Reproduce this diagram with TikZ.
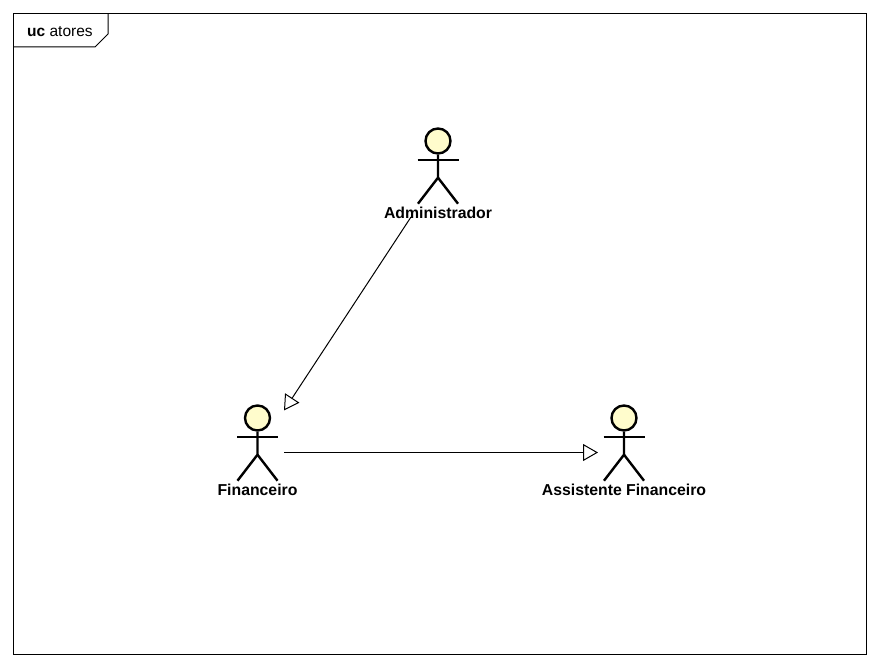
\documentclass[tikz,border=0pt]{standalone}
\usepackage{fontspec}
\setmainfont{Liberation Sans}
\usetikzlibrary{arrows.meta}
\tikzset{
	actorline/.style={line width=2.4pt},
	actorhead/.style={circle, draw, line width=2.4pt, fill=yellow!20, minimum size=25pt, inner sep=0pt},
	actorlabel/.style={font=\bfseries\fontsize{15.8}{18}\selectfont, inner sep=0pt, anchor=center},
	generalization/.style={line width=1pt, -{Triangle[open, fill=white, length=15pt, width=17pt]}},
	framelabel/.style={font=\fontsize{15.5}{17}\selectfont, inner sep=0pt, anchor=base west}
}
\newcommand{\actor}[4]{%
	\node[actorhead](#1) at (#2, #3){};
	\draw[actorline] (#1.south) -- ++(0, 23) coordinate (#1hip) -- ++(-20, 26);
	\draw[actorline] (#1hip) -- ++(20, 26);
	\draw[actorline] (#2-20.5, #3+19) -- (#2+20.5, #3+19);
	\node[actorlabel](#1label) at (#2, #3+72){#4};
}
\begin{document}
\begin{tikzpicture}[x=1pt, y=-1pt]
	\useasboundingbox (0, 0) rectangle (880, 666);
	% Frame and tab:
	\draw[line width=1pt] (13.5, 13.5) rectangle (866.5, 654);
	\draw[line width=1pt] (13.5, 47) -- (95, 47) -- (108, 34) -- (108, 13.5);
	\node[framelabel](tabname) at (27, 37){\textbf{uc} atores};
	% Actors:
	\actor{adm}{438}{141}{Administrador}
	\actor{fin}{257.5}{418}{Financeiro}
	\actor{ass}{624}{418}{Assistente Financeiro}
	% Connector ends:
	\coordinate (admout) at (411, 217);
	\coordinate (finin) at (284, 410.5);
	\coordinate (finout) at (284, 452.5);
	\coordinate (assin) at (598, 452.5);
	\draw[generalization] (admout) -- (finin);
	\draw[generalization] (finout) -- (assin);
\end{tikzpicture}
\end{document}
